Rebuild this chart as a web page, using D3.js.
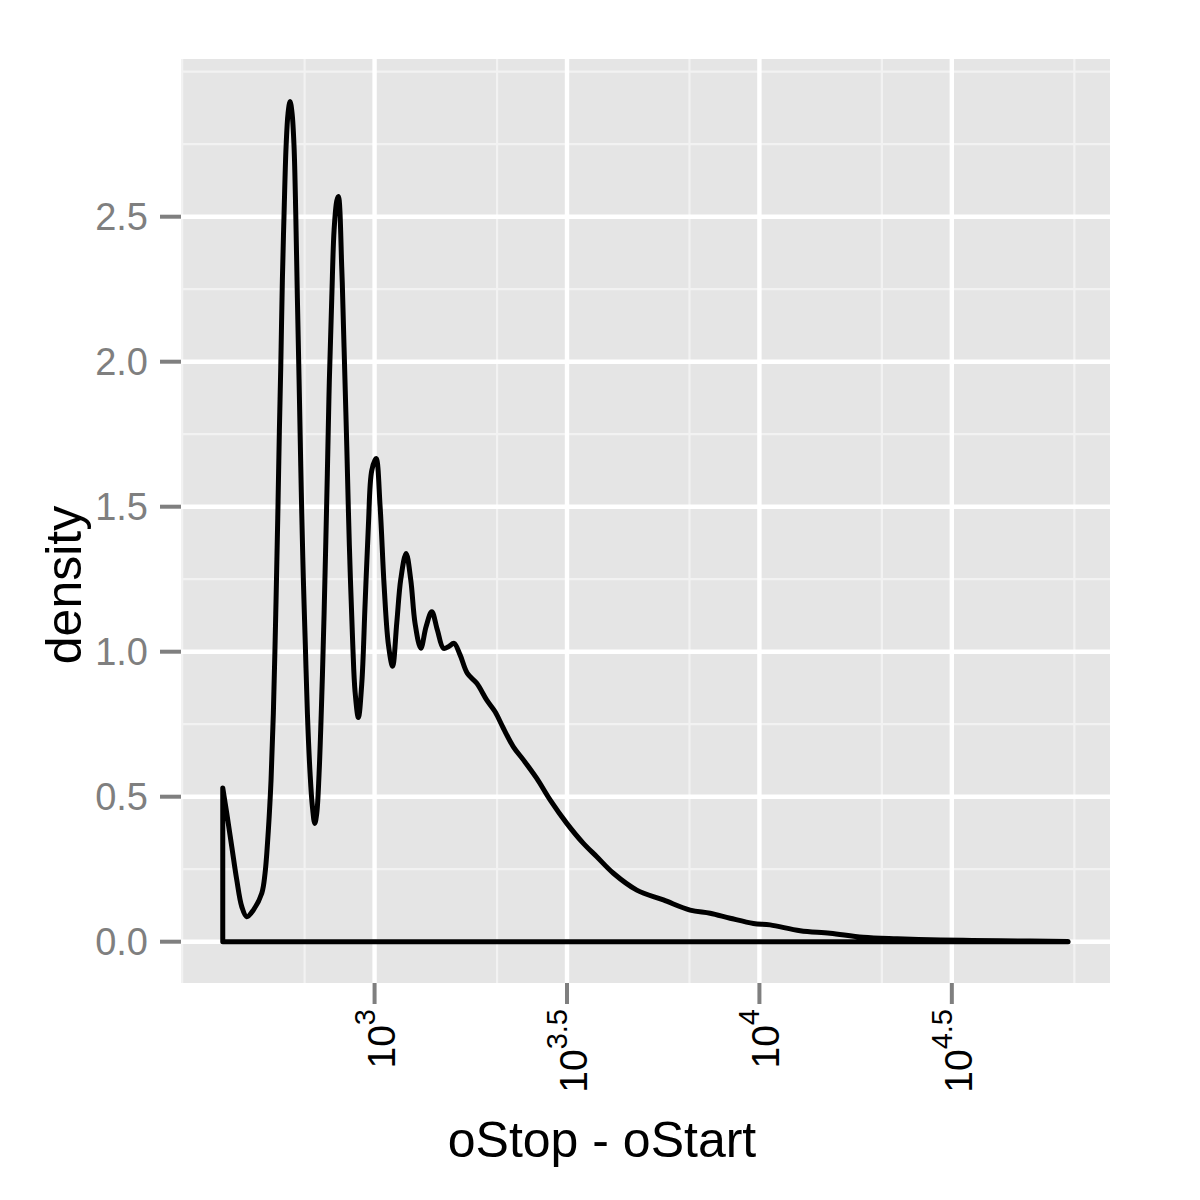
<!DOCTYPE html>
<html><head><meta charset="utf-8">
<script src="https://cdn.jsdelivr.net/npm/d3@7"></script>
<style>body{margin:0;background:#fff}</style>
</head><body>
<svg id="chart" width="1200" height="1200"></svg>
<script>
// log10(oStop - oStart) and estimated density
const logLength = [2.6055,2.6159,2.6289,2.6419,2.6549,2.6679,2.6850,2.7069,2.7154,2.7240,2.7310,2.7370,2.7432,2.7484,2.7526,2.7562,2.7604,2.7648,2.7700,2.7752,2.7804,2.7856,2.7908,2.7952,2.7994,2.8038,2.8082,2.8108,2.8150,2.8202,2.8254,2.8324,2.8384,2.8446,2.8498,2.8558,2.8628,2.8688,2.8773,2.8825,2.8888,2.8948,2.9018,2.9059,2.9148,2.9207,2.9278,2.9345,2.9433,2.9493,2.9579,2.9667,2.9753,2.9839,2.9927,3.0039,3.0143,3.0247,3.0359,3.0468,3.0577,3.0681,3.0819,3.0941,3.1052,3.1201,3.1338,3.1486,3.1632,3.1788,3.1918,3.2066,3.2222,3.2412,3.2656,3.2916,3.3132,3.3347,3.3607,3.3867,3.4215,3.4561,3.4995,3.5426,3.5775,3.6206,3.6814,3.7505,3.8199,3.8719,3.9239,3.9844,4.0278,4.1058,4.1837,4.2695,4.3579,4.4436,4.5294,4.6255,4.8022];
const density = [0.53,0.443,0.328,0.213,0.121,0.086,0.109,0.167,0.236,0.385,0.558,0.788,1.13,1.46,1.76,1.98,2.28,2.51,2.74,2.857,2.897,2.857,2.74,2.51,2.22,1.937,1.64,1.477,1.247,1.017,0.788,0.58,0.466,0.408,0.443,0.58,0.845,1.13,1.615,1.937,2.22,2.454,2.555,2.57,2.32,2.05,1.707,1.366,1.025,0.862,0.773,0.889,1.162,1.434,1.625,1.666,1.502,1.23,1.025,0.950,1.10,1.25,1.339,1.247,1.098,1.012,1.086,1.138,1.075,1.012,1.017,1.029,0.989,0.925,0.891,0.833,0.793,0.736,0.672,0.627,0.563,0.489,0.408,0.339,0.293,0.236,0.178,0.144,0.109,0.098,0.081,0.063,0.058,0.038,0.029,0.015,0.010,0.007,0.005,0.003,0.001];

const xTickExponents = ["3","3.5","4","4.5"];
const xMinorValues = [316.23, 658.1, 2081.1, 6581.1, 20811, 65811];
const yTickValues = [0, 0.5, 1.0, 1.5, 2.0, 2.5];
const yTickLabels = ["0.0","0.5","1.0","1.5","2.0","2.5"];
const yMinorValues = [0.25, 0.75, 1.25, 1.75, 2.25, 2.75, 3.0];
const xTitle = "oStop - oStart";
const yTitle = "density";

const data = logLength.map((l, i) => ({len: Math.pow(10, l), d: density[i]}));

const panel = {left: 181, right: 1110, top: 59, bottom: 983};
const x = d3.scaleLog().domain([Math.pow(10, 2.497), Math.pow(10, 4.911)]).range([panel.left, panel.right]);
const y = d3.scaleLinear().domain([-0.1424, 3.0438]).range([panel.bottom, panel.top]);

const svg = d3.select("#chart");
const font = "'Liberation Sans', Arial, Helvetica, sans-serif";

svg.append("rect").attr("x", panel.left).attr("y", panel.top)
  .attr("width", panel.right - panel.left).attr("height", panel.bottom - panel.top)
  .attr("fill", "#e5e5e5");

const grid = svg.append("g");
// minor
grid.selectAll(".xm").data(xMinorValues).join("line")
  .attr("x1", d => x(d)).attr("x2", d => x(d)).attr("y1", panel.top).attr("y2", panel.bottom)
  .attr("stroke", "#f2f2f2").attr("stroke-width", 2.2);
grid.selectAll(".ym").data(yMinorValues).join("line")
  .attr("y1", d => y(d)).attr("y2", d => y(d)).attr("x1", panel.left).attr("x2", panel.right)
  .attr("stroke", "#f2f2f2").attr("stroke-width", 2.2);
// major
const xTickValues = xTickExponents.map(e => Math.pow(10, +e));
grid.selectAll(".xM").data(xTickValues).join("line")
  .attr("x1", d => x(d)).attr("x2", d => x(d)).attr("y1", panel.top).attr("y2", panel.bottom)
  .attr("stroke", "#ffffff").attr("stroke-width", 4.4);
grid.selectAll(".yM").data(yTickValues).join("line")
  .attr("y1", d => y(d)).attr("y2", d => y(d)).attr("x1", panel.left).attr("x2", panel.right)
  .attr("stroke", "#ffffff").attr("stroke-width", 4.4);

// density outline (polygon like geom_density)
const area = d3.area().x(d => x(d.len)).y0(y(0)).y1(d => y(d.d)).curve(d3.curveCatmullRom.alpha(0.5));
svg.append("path").datum(data).attr("d", area)
  .attr("fill", "none").attr("stroke", "#000").attr("stroke-width", 5)
  .attr("stroke-linejoin", "round").attr("stroke-linecap", "round");

// y axis ticks & labels
const ya = svg.append("g");
ya.selectAll("line").data(yTickValues).join("line")
  .attr("x1", panel.left - 21).attr("x2", panel.left).attr("y1", d => y(d)).attr("y2", d => y(d))
  .attr("stroke", "#7f7f7f").attr("stroke-width", 4);
ya.selectAll("text").data(yTickValues).join("text")
  .attr("x", 148).attr("y", d => y(d)).attr("dy", "0.36em")
  .attr("text-anchor", "end").attr("font-family", font).attr("font-size", 38)
  .attr("fill", "#7f7f7f").text((d, i) => yTickLabels[i]);

// x axis ticks & labels
const xa = svg.append("g");
xa.selectAll("line").data(xTickValues).join("line")
  .attr("x1", d => x(d)).attr("x2", d => x(d)).attr("y1", panel.bottom).attr("y2", panel.bottom + 21)
  .attr("stroke", "#7f7f7f").attr("stroke-width", 4);
const xl = xa.selectAll("text").data(xTickExponents).join("text")
  .attr("transform", (d, i) => `translate(${x(xTickValues[i])},1009) rotate(-90)`)
  .attr("text-anchor", "end").attr("y", 20)
  .attr("font-family", font).attr("font-size", 39).attr("fill", "#000");
xl.append("tspan").text("10");
xl.append("tspan").attr("dy", -20).attr("font-size", 29).text(d => d);

// titles
svg.append("text").attr("x", 602).attr("y", 1157).attr("text-anchor", "middle")
  .attr("font-family", font).attr("font-size", 50).attr("fill", "#000").text(xTitle);
svg.append("text").attr("transform", "translate(81,585) rotate(-90)").attr("text-anchor", "middle")
  .attr("font-family", font).attr("font-size", 50).attr("fill", "#000").text(yTitle);
</script>
</body></html>
